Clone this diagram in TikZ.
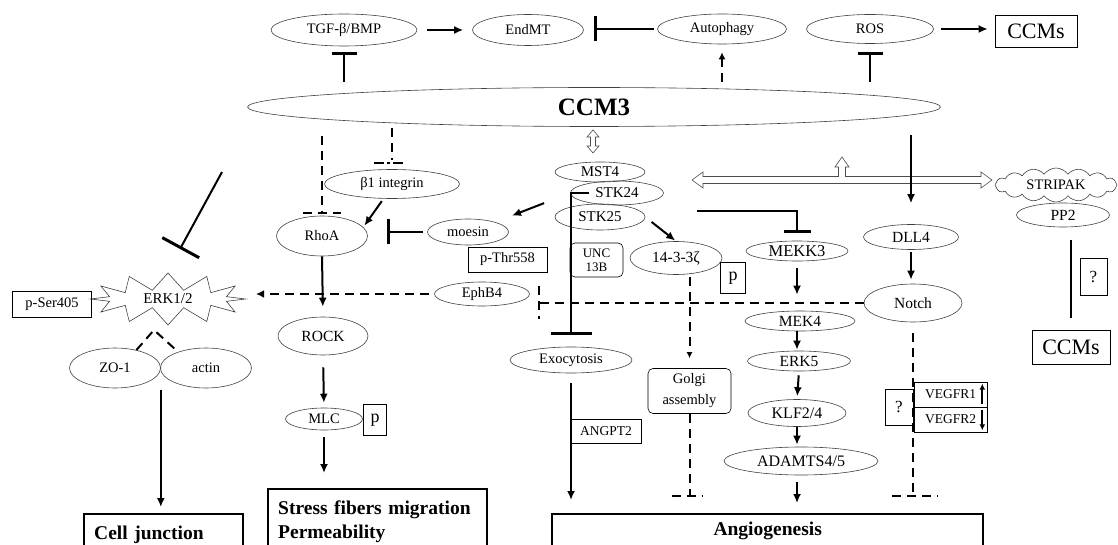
\documentclass[tikz,border=0pt]{standalone}
\usepackage{fontspec}
\setmainfont{Liberation Serif}
\usetikzlibrary{arrows.meta}
\usetikzlibrary{shapes.geometric}
\usetikzlibrary{shapes.symbols}
\newcommand\fsz[1]{\fontsize{#1}{#1}\selectfont}
\tikzset{oval/.style = {ellipse, draw = black!75, line width = 0.6pt, inner sep = 0pt, font = \fsz{14.5}}}
\tikzset{lbox/.style = {rectangle, draw, line width = 0.6pt, inner sep = 0pt, font = \fsz{14.5}}}
\tikzset{rbox/.style = {lbox, rounded corners = 5pt}}
\tikzset{outbox/.style = {rectangle, draw, line width = 2.4pt, anchor = north west, inner xsep = 10pt, inner ysep = 12pt, text depth = 45pt, font = \bfseries\fontsize{19.5}{24}\selectfont}}
\tikzset{act/.style = {line width = 2pt, -{Latex[length = 9pt, width = 8pt]}}}
\tikzset{inh/.style = {line width = 2pt, -{Bar[width = #1, line width = 3pt]}}, inh/.default = 25pt}
\tikzset{dsh/.style = {line width = 2pt, dash pattern = on 9pt off 6pt}}
\tikzset{hollow/.style = {draw = black!70, line width = 0.6pt, fill = white}}

\begin{document}
\begin{tikzpicture}[x = 1pt, y = -1pt]
      \useasboundingbox (0, 0) rectangle (1118, 545);

      % top row
      \node [oval, minimum width = 146pt, minimum height = 32pt] (tgf) at (344, 30) {TGF-β/BMP};
      \node [oval, minimum width = 111pt, minimum height = 31pt] (endmt) at (528, 30) {EndMT};
      \node [oval, minimum width = 129pt, minimum height = 30pt] (autoph) at (722, 29) {Autophagy};
      \node [oval, minimum width = 127pt, minimum height = 29pt] (ros) at (870, 29) {ROS};
      \node [lbox, minimum width = 82pt, minimum height = 32pt, font = \fsz{22}] (ccmstop) at (1036, 31) {CCMs};
      \node [oval, minimum width = 693pt, minimum height = 39pt, font = \bfseries\fsz{25}] (ccm3) at (594, 107) {CCM3};

      \draw [act, shorten <= 10pt, shorten >= 9pt] (tgf.east) -- (endmt.west);
      \draw [inh, shorten <= 3pt, shorten >= 10pt] (autoph.west) -- (autoph.west -| endmt.east);
      \draw [act, shorten <= 7pt, shorten >= 7pt] (ros.east) -- (ros.east -| ccmstop.west);
      \draw [inh, shorten <= 5pt, shorten >= 6pt] (tgf.south |- ccm3.north) -- (tgf.south);
      \draw [inh, shorten <= 5pt, shorten >= 8pt] (ros.south |- ccm3.north) -- (ros.south);
      \draw [dsh, -{Latex[length = 7pt, width = 7pt]}, shorten <= 5pt, shorten >= 8pt] (autoph.south |- ccm3.north) -- (autoph.south);

      % left branch
      \node [oval, minimum width = 135pt, minimum height = 29pt] (beta) at (392, 184) {β1 integrin};
      \node [oval, minimum width = 91pt, minimum height = 40pt] (rhoa) at (322, 236) {RhoA};
      \node [oval, minimum width = 81pt, minimum height = 26pt] (moesin) at (468, 232) {moesin};
      \node [lbox, minimum width = 79pt, minimum height = 25pt] (pthr) at (507.5, 259.5) {p-Thr558};
      \node [starburst, draw = black!75, line width = 0.6pt, starburst points = 12, starburst point height = 17pt,
             random starburst = 0, minimum width = 155pt, minimum height = 52pt, inner sep = 0pt,
             font = \fsz{15}] (erk) at (168, 299) {ERK1/2};
      \node [lbox, minimum width = 79pt, minimum height = 26pt] (pser) at (52, 304) {p-Ser405};
      \node [oval, minimum width = 95pt, minimum height = 24pt] (ephb4) at (482, 294) {EphB4};
      \node [oval, minimum width = 90pt, minimum height = 38pt, font = \fsz{15.5}] (rock) at (323, 336) {ROCK};
      \node [oval, minimum width = 91pt, minimum height = 40pt] (zo1) at (115, 368) {ZO-1};
      \node [oval, minimum width = 91pt, minimum height = 40pt] (actin) at (206, 368) {actin};
      \node [oval, minimum width = 77pt, minimum height = 22pt] (mlc) at (324, 419) {MLC};
      \node [lbox, minimum width = 23pt, minimum height = 31pt, font = \fsz{18}] (pmlc) at (375, 420) {p};

      \coordinate (rhoabar) at (322, 213);
      \coordinate (betabar) at (392, 163);
      \coordinate (erkin) at (256, 294);
      \coordinate (erkbot) at (154, 330);
      \coordinate (inhtop) at (222, 172);
      \coordinate (inhend) at (180, 249);

      \draw [dsh, shorten <= 9pt] (rhoabar |- ccm3.south) -- (rhoabar);
      \draw [dsh] (rhoabar) ++(-19, 0) -- ++(38, 0);
      \draw [dsh, shorten <= 1pt] (betabar |- ccm3.south) -- ([yshift = 3pt] betabar);
      \draw [line width = 2pt, dash pattern = on 10pt off 3pt on 3pt off 3pt] (betabar) ++(-18, 0) -- ++(31, 0);
      \draw [act, shorten <= 3pt, shorten >= 2pt] (beta.240) -- (rhoa.12);
      \draw [inh, shorten <= 4pt, shorten >= 19pt] (moesin.west) -- (moesin.west -| rhoa.east);
      \draw [act, shorten >= 10pt] (rhoa.south) -- (rock.north);
      \draw [act, shorten <= 12pt, shorten >= 5pt] (rock.south) -- (mlc.north);
      \draw [inh = 42pt] (inhtop) -- (inhend);
      \draw [dsh, -{Latex[length = 8pt, width = 8pt]}, shorten <= 5pt] (ephb4.west) -- (erkin);
      \draw [dsh] (zo1.40) -- (erkbot) -- (actin.150);

      % centre branch
      \node [oval, minimum width = 90pt, minimum height = 20pt, font = \fsz{15}] (mst4) at (600, 172) {MST4};
      \node [oval, minimum width = 93pt, minimum height = 24pt, font = \fsz{15}] (stk24) at (617, 193) {STK24};
      \node [oval, minimum width = 90pt, minimum height = 26pt, font = \fsz{15}] (stk25) at (600, 217) {STK25};
      \node [rbox, minimum width = 53pt, minimum height = 34pt, align = center, font = \fontsize{13}{14}\selectfont] (unc) at (596.5, 260) {UNC\\13B};
      \node [oval, minimum width = 92pt, minimum height = 33pt, font = \fsz{15.5}] (zeta) at (676, 258) {14-3-3ζ};
      \node [lbox, minimum width = 25pt, minimum height = 31pt, font = \fsz{18}] (pzeta) at (733, 278) {p};
      \node [oval, minimum width = 122pt, minimum height = 26pt] (exo) at (571, 360) {Exocytosis};
      \node [rbox, minimum width = 83pt, minimum height = 45pt, align = center, font = \fontsize{14.5}{21}\selectfont] (golgi) at (689.5, 391) {Golgi\\assembly};
      \node [lbox, minimum width = 70pt, minimum height = 24pt, font = \fsz{13.5}] (angpt) at (606, 431) {ANGPT2};
      \node [oval, minimum width = 102pt, minimum height = 20pt, font = \fsz{16.5}] (mekk3) at (797, 251) {MEKK3};
      \node [oval, minimum width = 110pt, minimum height = 20pt, font = \fsz{15.5}] (mek4) at (800, 321) {MEK4};
      \node [oval, minimum width = 103pt, minimum height = 20pt, font = \fsz{15.5}] (erk5) at (799, 361) {ERK5};
      \node [oval, minimum width = 98pt, minimum height = 27pt, font = \fsz{16}] (klf) at (797, 413) {KLF2/4};
      \node [oval, minimum width = 154pt, minimum height = 28pt, font = \fsz{16}] (adamts) at (801, 461) {ADAMTS4/5};

      \coordinate (stkout) at (697, 211);
      \coordinate (golgibar) at (689.5, 496);

      \draw [hollow] (593, 130) -- (599, 137) -- (595.5, 137) -- (595.5, 146) -- (599, 146) -- (593, 153)
            -- (587, 146) -- (590.5, 146) -- (590.5, 137) -- (587, 137) -- cycle;
      \draw [hollow] (692, 180) -- (703, 172) -- (703, 176.5) -- (838.5, 176.5) -- (838.5, 167) -- (835, 167)
            -- (842, 157) -- (849, 167) -- (845.5, 167) -- (845.5, 176.5) -- (981, 176.5) -- (981, 172)
            -- (992, 180) -- (981, 188) -- (981, 183.5) -- (703, 183.5) -- (703, 188) -- cycle;
      \draw [act, shorten <= 28pt, shorten >= 18pt] (stk24.west) -- (moesin.20);
      \draw [act, shorten <= 8pt, shorten >= 1pt] (stk25.east) -- (zeta.north);
      \draw [inh = 41pt] ([xshift = 19pt] stk24.west) -| ([yshift = 12pt] exo.north);
      \draw [inh = 27pt, shorten >= 8pt] (stkout) -| (mekk3.north);
      \draw [dsh, -{Latex[length = 6pt, width = 6pt]}, shorten <= 2pt, shorten >= 10pt] (golgi.north |- zeta.south) -- (golgi.north);
      \draw [dsh] (golgi.south) -- (golgibar);
      \draw [dsh] (golgibar) ++(-18, 0) -- ++(31, 0);
      \draw [act, shorten <= 10pt, shorten >= 13pt] (exo.south) -- (exo.south |- 0, 513);
      \draw [act, shorten <= 7pt, shorten >= 16pt] (mekk3.south) -- (mekk3.south |- mek4.north);
      \draw [act, shorten >= 1pt] (mekk3.south |- mek4.south) -- (mekk3.south |- erk5.north);
      \draw [act, shorten <= 4pt, shorten >= 3pt] (erk5.south) -- (klf.north);
      \draw [act, shorten >= 2pt] (klf.south) -- (klf.south |- adamts.north);
      \draw [act, shorten <= 7pt, shorten >= 10pt] (klf.south |- adamts.south) -- (klf.south |- 0, 513);

      % right branch
      \node [oval, minimum width = 95pt, minimum height = 25pt, font = \fsz{15.5}] (dll4) at (911, 237) {DLL4};
      \node [oval, minimum width = 98pt, minimum height = 38pt, font = \fsz{15.5}] (notch) at (913, 303) {Notch};
      \node [cloud, draw = black!75, line width = 0.6pt, cloud puffs = 16, cloud puff arc = 110, aspect = 3.6, inner sep = 0pt,
             minimum width = 122pt, minimum height = 34pt, font = \fsz{14.5}] (stripak) at (1056, 185) {STRIPAK};
      \node [oval, minimum width = 93pt, minimum height = 24pt, font = \fsz{15.5}] (pp2) at (1063, 215) {PP2};
      \node [lbox, minimum width = 27pt, minimum height = 37pt, font = \fsz{17}] (qpp) at (1093.5, 276.5) {?};
      \node [lbox, minimum width = 78pt, minimum height = 34pt, font = \fsz{22}] (ccmslow) at (1071, 347) {CCMs};
      \node [lbox, minimum width = 73pt, minimum height = 25pt, font = \fsz{13.5}] (vegfr1) at (950.5, 394.5) {VEGFR1\hspace{6pt}};
      \node [lbox, minimum width = 73pt, minimum height = 25pt, font = \fsz{13.5}] (vegfr2) at (950.5, 419.5) {VEGFR2\hspace{6pt}};
      \node [lbox, minimum width = 28pt, minimum height = 36pt, font = \fsz{17}] (qveg) at (899, 407) {?};

      \coordinate (ephbar) at (539, 303);
      \coordinate (notchbar) at (913, 496);

      \draw [act, shorten <= 8.5pt, shorten >= 21pt] (dll4.north |- ccm3.south) -- (dll4.north);
      \draw [act, shorten <= 2.5pt, shorten >= 4pt] (dll4.south) -- (dll4.south |- notch.north);
      \draw [dsh] (notch.west) -- (notch.west -| ephbar);
      \draw [dsh] (ephbar) ++(0, -17) -- ++(0, 33);
      \draw [dsh, shorten <= 11pt] (notch.south) -- (notchbar);
      \draw [dsh] (notchbar) ++(-21, 0) -- ++(46, 0);
      \draw [line width = 2pt, shorten <= 13pt, shorten >= 12pt] (ccmslow.north |- pp2.south) -- (ccmslow.north);
      \draw [line width = 1.8pt, -{Latex[length = 6pt, width = 6pt]}, shorten <= 3pt, shorten >= 2pt]
            ([xshift = -5pt] vegfr1.south east) -- ([xshift = -5pt] vegfr1.north east);
      \draw [line width = 1.8pt, -{Latex[length = 6pt, width = 6pt]}, shorten <= 3pt, shorten >= 2pt]
            ([xshift = -5pt] vegfr2.north east) -- ([xshift = -5pt] vegfr2.south east);

      % outcomes
      \node [outbox, text width = 139pt, align = left] (celljunc) at (83, 513) {Cell junction};
      \node [outbox, text width = 199pt, align = left] (stress) at (267, 488) {Stress fibers migration\\Permeability};
      \node [outbox, text width = 411pt, align = center, inner ysep = 8pt] (angio) at (551, 513) {Angiogenesis};

      \draw [act, shorten <= 2pt, shorten >= 6pt] (zo1.east |- zo1.south) -- (zo1.east |- celljunc.north);
      \draw [act, shorten <= 7pt, shorten >= 15pt] (mlc.south) -- (mlc.south |- stress.north);
    \end{tikzpicture}
\end{document}
